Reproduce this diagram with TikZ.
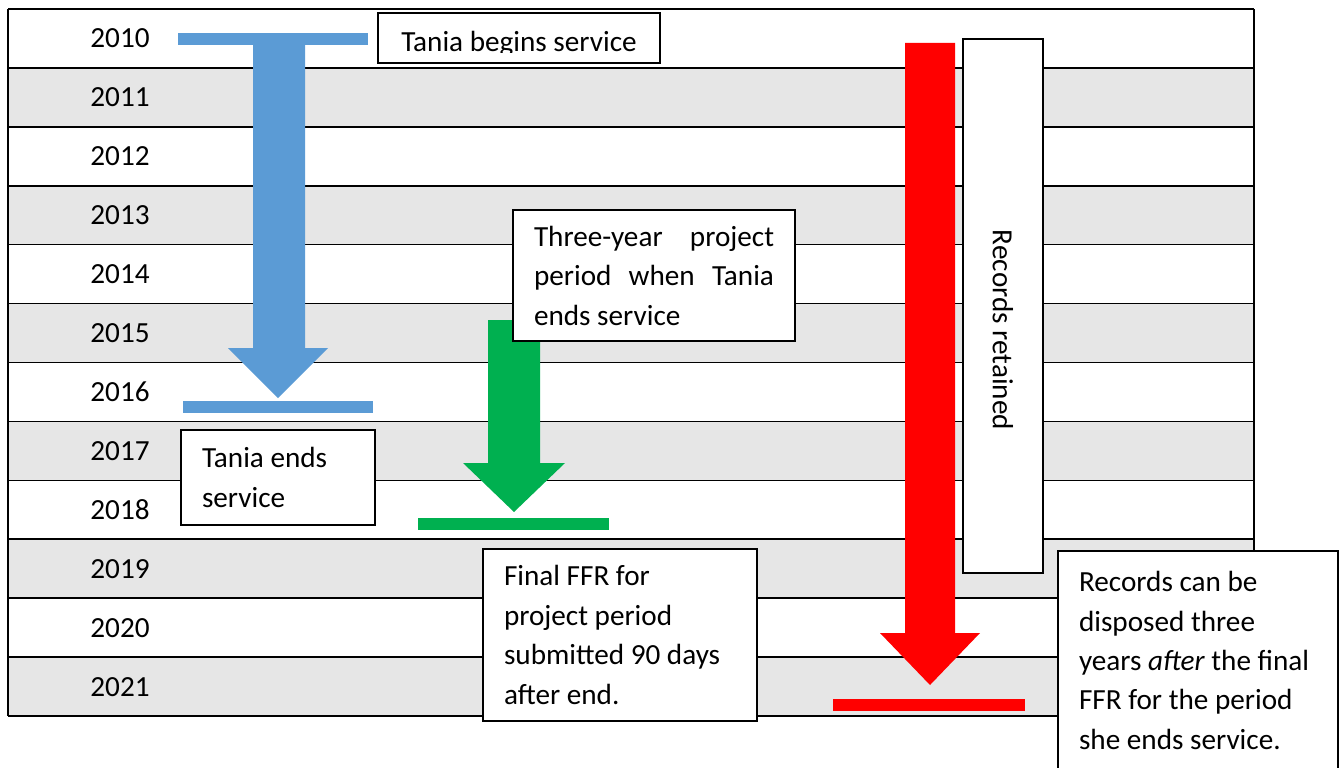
\documentclass[tikz,border=0pt]{standalone}
\usepackage{fontspec}
\setmainfont{Carlito}
\usetikzlibrary{positioning}
\definecolor{rowgray}{HTML}{E6E6E6}
\definecolor{tblue}{HTML}{5B9BD5}
\definecolor{tgreen}{HTML}{00B050}
\definecolor{tred}{HTML}{FF0000}

\begin{document}
\begin{tikzpicture}[x=0.75pt, y=-0.75pt,
    every node/.style={font=\fontsize{21.9pt}{29.6pt}\selectfont},
    notebox/.style={draw, line width=1.2pt, fill=white, align=flush left, inner xsep=15.75pt, inner ysep=0pt}]
    \useasboundingbox (0,0) rectangle (1344,767);
    % year rows
    \foreach \i in {1,3,...,11}
        \fill[rowgray] (8,{9+58.92*\i}) rectangle (1254,{9+58.92*(\i+1)});
    \foreach \i in {0,...,12}
        \draw[line width=1.2pt] (8,{9+58.92*\i}) -- (1254,{9+58.92*\i});
    \draw[line width=1.2pt] (8,9) -- (8,716) (1254,9) -- (1254,716);
    \foreach \yr [count=\i from 0] in {2010,...,2021}
        \node (y\yr) at (120,{38.5+58.92*\i}) {\yr};

    % blue: service period
    \fill[tblue] (178,33) rectangle (368,45);
    \fill[tblue] (253,45) -- (305,45) -- (305,348) -- (328,348) -- (278,398) -- (228,348) -- (253,348) -- cycle;
    \fill[tblue] (183,401) rectangle (373,413);
    % green: project period
    \fill[tgreen] (488,320) -- (540,320) -- (540,463) -- (565,463) -- (514,512) -- (463,463) -- (488,463) -- cycle;
    \fill[tgreen] (418,518) rectangle (609,530);
    % red: retention
    \fill[tred] (905,43) -- (955,43) -- (955,633) -- (980,633) -- (930,685) -- (880,633) -- (905,633) -- cycle;
    \fill[tred] (833,699) rectangle (1025,711);

    \node[notebox, minimum width=211.5pt, minimum height=37.5pt, text height=21pt, text depth=0pt] (begins) at (519,38) {Tania begins service};
    \fill[white] (379.5,53.5) rectangle (658.5,61.5);
    \node[notebox, text width=114pt, minimum height=71.25pt] (ends) at (278,477.5) {Tania ends\\service};
    \node[notebox, text width=180pt, minimum height=98.25pt] (three) at (654,275.5) {Three-year\hfill project\\period\hfill when\hfill Tania\\ends service};
    \node[notebox, text width=174pt, minimum height=129pt] (final) at (620,635) {Final FFR for\\project period\\submitted 90 days\\after end.};
    \node[notebox, rotate=-90, align=flush center, text width=369pt, minimum height=60pt] (retained) at (1003,306) {\hspace*{36pt}Records retained};
    \node[notebox, text width=178.5pt, minimum height=164.25pt] (dispose) at (1198,660.5) {Records can be\\disposed three\\years \textit{after} the final\\FFR for the period\\she ends service.};
\end{tikzpicture}
\end{document}
